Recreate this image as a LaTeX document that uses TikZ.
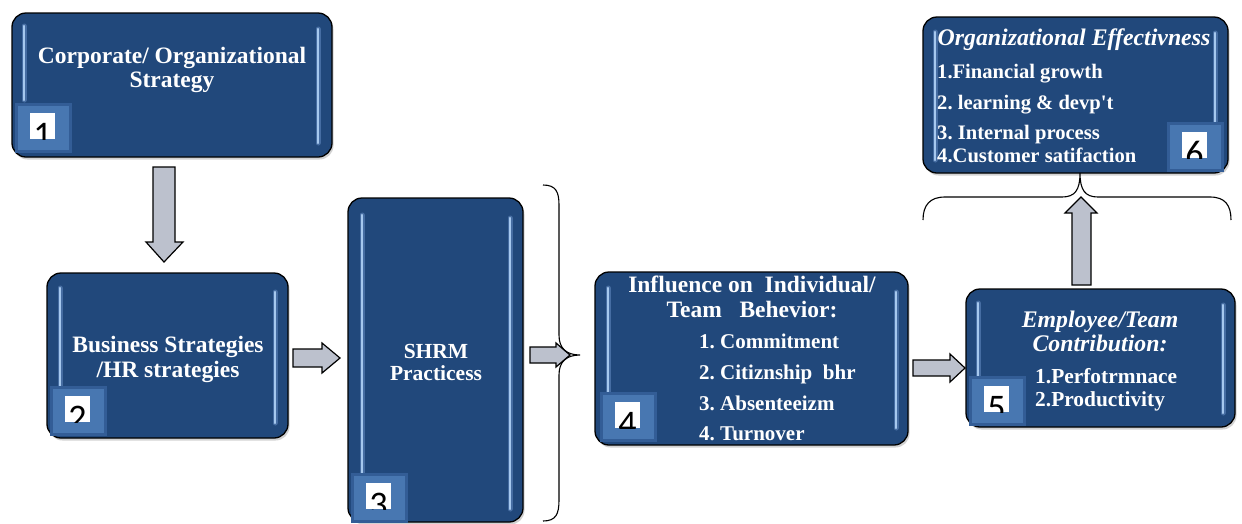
\documentclass[tikz,border=0pt]{standalone}
\usepackage{fontspec}
\setmainfont{Liberation Serif}
\newfontfamily\numfont{Carlito}
\usetikzlibrary{shadows,calc}
\frenchspacing
\definecolor{boxblue}{HTML}{21487B}
\definecolor{badgedark}{HTML}{335D96}
\definecolor{badgelight}{HTML}{4877B1}
\definecolor{hilite}{HTML}{A6C8EE}
\definecolor{hiliteglow}{HTML}{5F86BC}
\definecolor{arrowmid}{HTML}{E4E7EE}
\definecolor{arrowedge}{HTML}{BCC1CD}
\tikzset{
  box/.style={draw=black, line width=1.3pt, fill=boxblue, rounded corners=14pt, inner sep=0pt,
    drop shadow={opacity=0.35, shadow xshift=1.5pt, shadow yshift=-2.5pt}},
  hlglow/.style={line width=5pt, draw=hiliteglow, line cap=round},
  hl/.style={line width=2.2pt, draw=hilite, line cap=round},
  harrow/.style={draw=black, line width=1.2pt, top color=arrowedge, middle color=arrowmid, bottom color=arrowedge, line join=miter},
  varrow/.style={draw=black, line width=1.2pt, left color=arrowedge, middle color=arrowmid, right color=arrowedge, line join=miter},
  brace/.style={draw=black, line width=1.1pt},
  txt/.style={text=white, font=\bfseries\fontsize{23.5}{26}\selectfont, inner sep=0pt, anchor=base},
  txtsm/.style={text=white, font=\bfseries\fontsize{21}{24}\selectfont, inner sep=0pt, anchor=base west},
  txtit/.style={text=white, font=\bfseries\itshape\fontsize{23.8}{26}\selectfont, inner sep=0pt, anchor=base},
  num/.style={text=black, font=\numfont\fontsize{36}{36}\selectfont, inner sep=0pt, anchor=base},
}
\newcommand{\badge}[4]{% outer x0,y0 ; digit ; name
  \fill[badgedark] (#1,#2) rectangle ++(57,50);
  \fill[badgelight] ($(#1,#2)+(3,3)$) rectangle ++(51,44);
  \fill[white] ($(#1,#2)+(15,10)$) rectangle ++(25,26);
  \begin{scope}
    \clip ($(#1,#2)+(15,10)$) rectangle ++(25,26);
    \node[num] (#4) at ($(#1,#2)+(27.5,43)$) {#3};
  \end{scope}
}
\begin{document}
\begin{tikzpicture}[x=1pt,y=-1pt]
\useasboundingbox (0,0) rectangle (1242,523);
\fill[white] (0,0) rectangle (1242,523);

% boxes
\node[box, minimum width=320pt, minimum height=144pt] (b1) at (172,85) {};
\node[box, minimum width=241pt, minimum height=165pt] (b2) at (167.5,355.5) {};
\node[box, minimum width=175pt, minimum height=324pt] (b3) at (435.5,360) {};
\node[box, minimum width=313pt, minimum height=173pt] (b4) at (751.5,358.5) {};
\node[box, minimum width=269pt, minimum height=138pt] (b5) at (1100.5,358) {};
\node[box, minimum width=305pt, minimum height=156pt] (b6) at (1075.5,95) {};

% highlights
\foreach \x/\ya/\yb in {24/26/100, 318/29/143, 60/288/387, 275/292/423, 362/215/473, 510/218/509,
  608/288/392, 896/292/428, 978/303/377, 1223/305/413, 935/32/160, 1215/33/123}{
  \draw[hlglow, opacity=0.6] (\x,\ya) -- (\x,\yb);
  \draw[hl] (\x,\ya) -- (\x,\yb);
}

% badges
\badge{15}{103}{1}{n1}
\badge{50}{386}{2}{n2}
\badge{351}{473}{3}{n3}
\badge{600}{392}{4}{n4}
\badge{969}{376}{5}{n5}
\badge{1167}{122}{6}{n6}

% texts box 1
\node[txt] (t1a) at (172,63) {Corporate/ Organizational};
\node[txt] (t1b) at (172,87) {Strategy};
% box 2
\node[txt] (t2a) at (168,352) {Business Strategies};
\node[txt] (t2b) at (168,377) {/HR strategies};
% box 3
\node[txt, font=\bfseries\fontsize{21.5}{24}\selectfont] (t3a) at (436,358) {SHRM};
\node[txt, font=\bfseries\fontsize{21.5}{24}\selectfont] (t3b) at (436,380) {Practicess};
% box 4
\node[txt] (t4a) at (752,292) {Influence on\ \ Individual/};
\node[txt] (t4b) at (752,317) {Team\ \ \ Behevior:};
\node[txtsm] (t4c) at (699,348) {1. Commitment};
\node[txtsm] (t4d) at (699,379) {2. Citiznship\ \ bhr};
\node[txtsm] (t4e) at (699,410) {3. Absenteeizm};
\node[txtsm] (t4f) at (699,440) {4. Turnover};
% box 5
\node[txtit] (t5a) at (1100,327) {Employee/Team};
\node[txtit] (t5b) at (1100,351) {Contribution:};
\node[txtsm, font=\bfseries\fontsize{21.4}{24}\selectfont] (t5c) at (1035,383) {1.Perfotrmnace};
\node[txtsm, font=\bfseries\fontsize{21.4}{24}\selectfont] (t5d) at (1035,406) {2.Productivity};
% box 6
\node[txtit] (t6a) at (1074,45) {Organizational Effectivness};
\node[txtsm, font=\bfseries\fontsize{20.6}{24}\selectfont] (t6b) at (937,78) {1.Financial growth};
\node[txtsm, font=\bfseries\fontsize{20.6}{24}\selectfont] (t6c) at (937,109) {2. learning \& devp\textquotesingle t};
\node[txtsm, font=\bfseries\fontsize{20.6}{24}\selectfont] (t6d) at (937,139) {3. Internal process};
\node[txtsm, font=\bfseries\fontsize{20.6}{24}\selectfont] (t6e) at (937,162) {4.Customer satifaction};

% block arrows
\draw[varrow] (153,167) -- (175,167) -- (175,242) -- (183,242) -- (164,262) -- (146,242) -- (153,242) -- cycle;
\draw[harrow] (293,349) -- (322,349) -- (322,343) -- (340,358) -- (322,373) -- (322,367) -- (293,367) -- cycle;
\draw[harrow] (530,347) -- (556,347) -- (556,343) -- (570,355) -- (556,367) -- (556,363) -- (530,363) -- cycle;
\draw[harrow] (913,360) -- (950,360) -- (950,354) -- (965,368) -- (950,382) -- (950,376) -- (913,376) -- cycle;
\draw[varrow] (1072,285) -- (1072,213) -- (1065,213) -- (1081,197) -- (1097,213) -- (1091,213) -- (1091,285) -- cycle;

% braces
\draw[brace] (543,185) .. controls (556,185) and (559,192) .. (559,205) -- (559,335)
  .. controls (559,348) and (566,355) .. (580,355)
  .. controls (566,355) and (559,362) .. (559,375) -- (559,500)
  .. controls (559,514) and (556,521) .. (543,521);
\draw[brace] (923,220) .. controls (923,205) and (930,197) .. (945,197) -- (1062,197)
  .. controls (1075,197) and (1080,190) .. (1080,173)
  .. controls (1080,190) and (1085,197) .. (1098,197) -- (1210,197)
  .. controls (1225,197) and (1231,205) .. (1231,220);
\end{tikzpicture}
\end{document}
